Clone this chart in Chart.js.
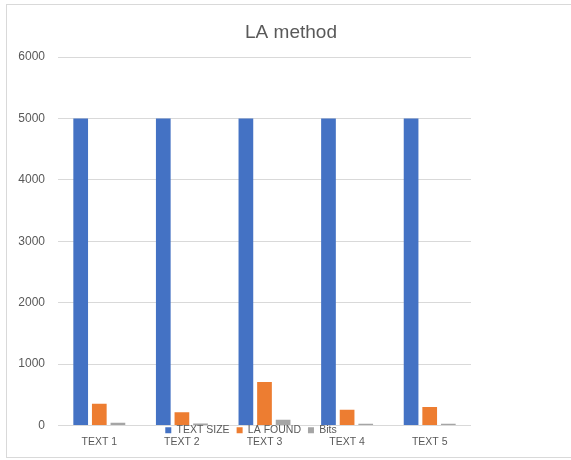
<!DOCTYPE html>
<html>
<head>
<meta charset="utf-8">
<script src="https://cdn.jsdelivr.net/npm/chart.js@4/dist/chart.umd.min.js"></script>
<style>
  html, body { margin: 0; padding: 0; background: #ffffff; overflow: hidden; }
  #frame { position: absolute; left: 6px; top: 4px; width: 590px; height: 454px;
           border: 1px solid #d9d9d9; box-sizing: border-box; }
  #wrap { position: absolute; left: 0; top: 0; width: 571px; height: 460px; }
</style>
</head>
<body>
<div id="frame"></div>
<div id="wrap"><canvas id="c" width="571" height="460"></canvas></div>
<script>
const chartTitle = 'LA method';
const categories = ['TEXT 1', 'TEXT 2', 'TEXT 3', 'TEXT 4', 'TEXT 5'];
const seriesNames = ['TEXT SIZE', 'LA FOUND', 'Bits'];
const textSize = [5000, 5000, 5000, 5000, 5000];
const laFound = [355, 215, 710, 255, 300];
const bits = [45, 32, 92, 28, 28];
const yTicks = [0, 1000, 2000, 3000, 4000, 5000, 6000];

const colors = ['#4472C4', '#ED7D31', '#A5A5A5'];
const textColor = '#595959';

// Places the title over the whole chart frame and the legend just under the plot
const placer = {
  id: 'placer',
  afterLayout(chart) {
    const t = chart.titleBlock;
    if (t) { t.left = 6; t.right = 576; t.width = 570; }
    const lg = chart.legend;
    if (lg) {
      const h = lg.bottom - lg.top;
      lg.top = chart.chartArea.bottom - 7.5;
      lg.bottom = lg.top + h;
      const delta = 251 - (lg.left + lg.right) / 2;
      lg.left += delta; lg.right += delta;
    }
  }
};

new Chart(document.getElementById('c'), {
  type: 'bar',
  data: {
    labels: categories,
    datasets: [
      { label: seriesNames[0], data: textSize, backgroundColor: colors[0] },
      { label: seriesNames[1], data: laFound, backgroundColor: colors[1] },
      { label: seriesNames[2], data: bits, backgroundColor: colors[2] }
    ]
  },
  options: {
    responsive: false,
    animation: false,
    devicePixelRatio: 1,
    layout: { padding: { left: 13, right: 100, top: 0, bottom: -16 } },
    datasets: { bar: { categoryPercentage: 0.676, barPercentage: 0.79 } },
    plugins: {
      title: {
        display: true,
        text: chartTitle,
        color: textColor,
        font: { family: 'Liberation Sans', size: 19, weight: 'normal' },
        padding: { top: 21.6, bottom: 12.6 }
      },
      legend: {
        display: true,
        position: 'bottom',
        labels: {
          boxWidth: 6, boxHeight: 6, padding: 7,
          color: textColor,
          font: { family: 'Liberation Sans', size: 10.5 }
        }
      },
      tooltip: { enabled: false }
    },
    scales: {
      x: {
        grid: { display: false, drawTicks: false },
        border: { display: false },
        ticks: { color: textColor, padding: 10, font: { family: 'Liberation Sans', size: 10.5 } },
        afterFit(s) { s.height = 23; }
      },
      y: {
        min: 0, max: 6000,
        afterBuildTicks(s) { s.ticks = yTicks.map(v => ({ value: v })); },
        grid: { color: '#d9d9d9', drawTicks: false, lineWidth: 1 },
        border: { display: false },
        ticks: {
          color: textColor, padding: 13,
          font: { family: 'Liberation Sans', size: 12 },
          callback: v => String(v)
        },
        afterFit(s) { s.width = 45; }
      }
    }
  },
  plugins: [placer]
});
</script>
</body>
</html>
